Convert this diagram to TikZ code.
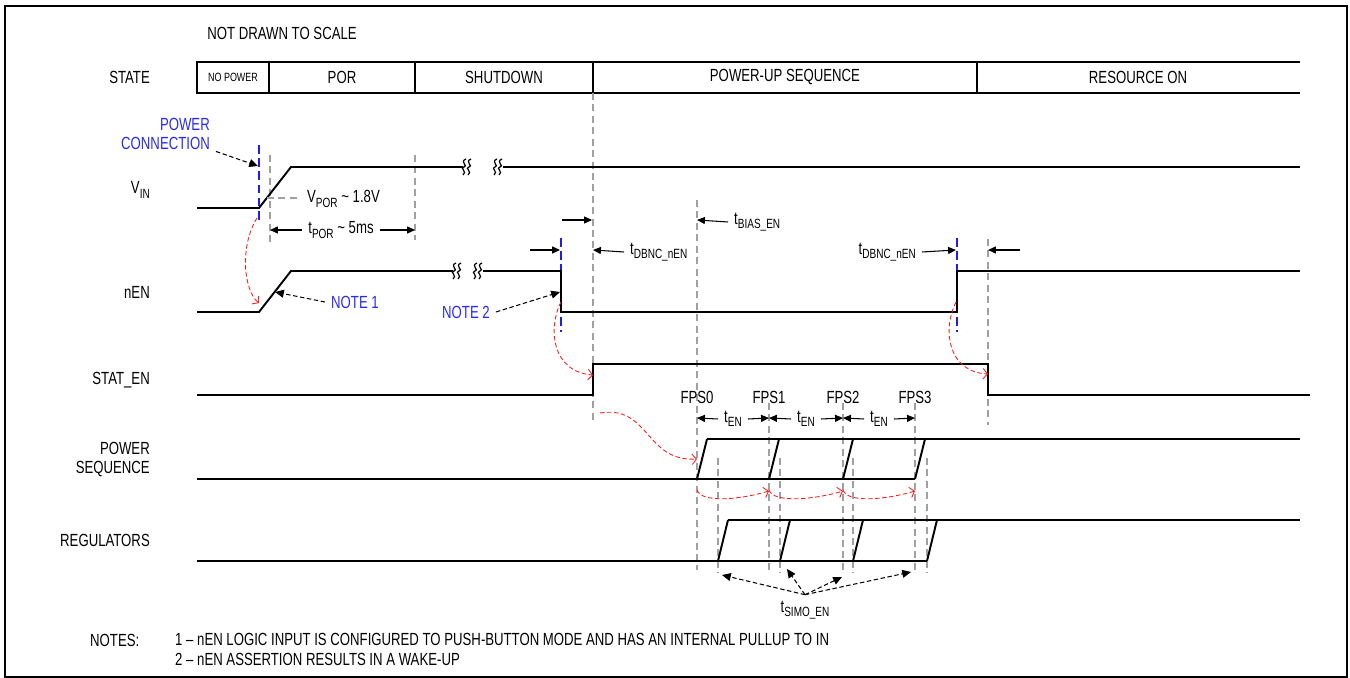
\documentclass[tikz,border=0pt]{standalone}
\usepackage{fontspec}
\setmainfont{Liberation Sans}[FakeStretch=0.75]
\usetikzlibrary{arrows.meta,positioning}
\definecolor{noteblue}{RGB}{40,40,250}
\definecolor{evtblue}{RGB}{30,30,230}
\definecolor{causered}{RGB}{255,30,30}
\definecolor{dashgray}{RGB}{160,160,160}
\newcommand\lo[1]{\raisebox{-0.45ex}{\fontsize{7.6}{8}\selectfont #1}}

\begin{document}
\begin{tikzpicture}[x=0.02cm, y=-0.02cm, >={Triangle[length=4.5pt,width=4pt]},
  font=\fontsize{10}{10.5}\selectfont,
  lbl/.style={anchor=east},
  sig/.style={line width=1.1pt},
  boxln/.style={line width=0.8pt},
  grid/.style={draw=dashgray, line width=0.6pt, dash pattern=on 4pt off 2.5pt},
  evt/.style={draw=evtblue, line width=0.7pt, dash pattern=on 5pt off 2.5pt},
  bnote/.style={text=noteblue},
  tim/.style={->, line width=0.6pt},
  call/.style={-{Triangle[length=5pt,width=4.5pt]}, dash pattern=on 2.5pt off 1.5pt, line width=0.6pt},
  cause/.style={draw=causered, -{Straight Barb[length=2.5pt,width=6pt]}, dash pattern=on 2.5pt off 1.5pt, line width=0.5pt},
  brk/.pic={\draw[line width=0.7pt] (1,-8) .. controls (-6,-5) and (4,-1) .. (-1,0) .. controls (-6,1) and (3,5) .. (-2,8);
            \draw[line width=0.7pt] (6,-8) .. controls (-1,-5) and (9,-1) .. (4,0) .. controls (-1,1) and (8,5) .. (3,8);}]
\useasboundingbox (0,0) rectangle (1350,678);
\draw[line width=0.9pt] (5,6) rectangle (1347,677);

\node (title) at (282,33) {NOT DRAWN TO SCALE};

% row labels
\node[lbl] (lstate) at (156,77) {STATE};
\node[lbl] (lvin) at (156,190) {V\lo{IN}};
\node[lbl] (lnen) at (156,292) {nEN};
\node[lbl] (lstat) at (156,380) {STAT\_EN};
\node[lbl, align=right, font=\fontsize{10}{10.8}\selectfont] (lpseq) at (156,460) {POWER\\SEQUENCE};
\node[lbl] (lreg) at (156,540) {REGULATORS};

% state bar
\draw[boxln] (1300,62) -- (197,62) -- (197,93) -- (1300,93);
\foreach \x in {269,415,593,977} \draw[boxln] (\x,62) -- (\x,93);
\node[font=\fontsize{6.8}{7}\selectfont] (snopwr) at (233,77) {NO POWER};
\node (spor) at (342,77) {POR};
\node (sshdn) at (504,77) {SHUTDOWN};
\node (sseq) at (785,77) {POWER-UP SEQUENCE};
\node (son) at (1138,77) {RESOURCE ON};

% event lines
\foreach \x/\a/\b in {270/155/245, 415/155/240, 593/93/422, 697/200/570, 769/403/570, 843/403/570,
  915/403/570, 718/458/573, 780/458/573, 853/458/573, 927/458/573, 988/239/425}
  \draw[grid] (\x,\a) -- (\x,\b);
\draw[evt] (259,145) -- (259,222);
\draw[evt] (561,238) -- (561,332);
\draw[evt] (957,238) -- (957,332);

% VIN
\draw[sig] (197,208) -- (259,208) -- (291,167) -- (463,167);
\draw[sig] (503,167) -- (1300,167);
\pic at (465,167) {brk};
\pic at (496,167) {brk};

% nEN
\draw[sig] (197,312) -- (259,312) -- (291,271) -- (453,271);
\draw[sig] (483,271) -- (561,271) -- (561,312) -- (957,312) -- (957,271) -- (1300,271);
\pic at (455,271) {brk};
\pic at (476,271) {brk};

% STAT_EN
\draw[sig] (197,395) -- (593,395) -- (593,364) -- (988,364) -- (988,395) -- (1310,395);

% POWER SEQUENCE
\draw[sig] (197,479) -- (915,479);
\draw[sig] (707,439) -- (1300,439);
\foreach \x in {697,769,843,915} \draw[sig] (\x,479) -- ++(10,-40);

% REGULATORS
\draw[sig] (197,561) -- (927,561);
\draw[sig] (728,520) -- (1300,520);
\foreach \x in {718,780,853,927} \draw[sig] (\x,561) -- ++(10,-41);

% power connection and notes
\node[bnote, align=right, anchor=east, font=\fontsize{10}{10.8}\selectfont] (pc) at (216,134) {POWER\\CONNECTION};
\coordinate (vpc) at (258,166);
\draw[call] (pc) -- (vpc);
\node[bnote, anchor=west] (n1) at (325,302) {NOTE 1};
\coordinate (nramp) at (275,292);
\draw[call] (n1.west) -- (nramp);
\node[bnote, anchor=east] (n2) at (496,312) {NOTE 2};
\coordinate (nfall) at (560,292);
\draw[call] (n2.east) -- (nfall);

% VPOR and tPOR
\draw[grid] (267,198) -- (300,198);
\node[anchor=west] (vpor) at (301,199) {V\lo{POR} \textasciitilde{} 1.8V};
\node (tpor) at (341,230) {t\lo{POR} \textasciitilde{} 5ms};
\draw[tim] (tpor.west) -- (270,230);
\draw[tim] (tpor.east) -- (415,230);

% debounce and bias
\draw[tim] (562,220) -- (592,220);
\draw[tim] (530,250) -- (560,250);
\node[anchor=west] (tdb1) at (624,252) {t\lo{DBNC\_nEN}};
\draw[tim] (tdb1.west) -- (593,250);
\node[anchor=west] (tbias) at (728,222) {t\lo{BIAS\_EN}};
\draw[tim] (tbias.west) -- (697,220);
\node[anchor=east] (tdb2) at (922,252) {t\lo{DBNC\_nEN}};
\draw[tim] (tdb2.east) -- (956,250);
\draw[tim] (1020,250) -- (988,250);

% FPS slots
\foreach \x/\n in {697/0,769/1,843/2,915/3} \node (fps\n) at (\x,397) {FPS\n};
\foreach \a/\b/\n in {697/769/1,769/843/2,843/915/3} {
  \node (ten\n) at ({(\a+\b)/2},419) {t\lo{EN}};
  \draw[tim] (ten\n.west) -- (\a,418);
  \draw[tim] (ten\n.east) -- (\b,418);
}

% cause arrows
\draw[cause] (257,218) .. controls (240,245) and (243,290) .. (259,303);
\draw[cause] (561,302) .. controls (547,330) and (553,372) .. (593,375);
\draw[cause] (956,302) .. controls (942,330) and (948,372) .. (988,374);
\draw[cause] (600,413) .. controls (650,405) and (645,462) .. (697,459);
\foreach \a/\b in {697/769,769/843,843/915}
  \draw[cause] (\a,490) .. controls (\a+4,503) and (\b-30,500) .. (\b,491);

% tSIMO_EN
\node (tsimo) at (805,610) {t\lo{SIMO\_EN}};
\foreach \p in {(722,575),(787,569),(842,577),(911,572)}
  \draw[call] (tsimo.north) -- \p;

% notes
\node[anchor=west] (notes) at (84,640) {NOTES:};
\node[anchor=west] (note1) at (169,639) {1 -- nEN LOGIC INPUT IS CONFIGURED TO PUSH-BUTTON MODE AND HAS AN INTERNAL PULLUP TO IN};
\node[anchor=west] (note2) at (169,659) {2 -- nEN ASSERTION RESULTS IN A WAKE-UP};
\end{tikzpicture}
\end{document}
